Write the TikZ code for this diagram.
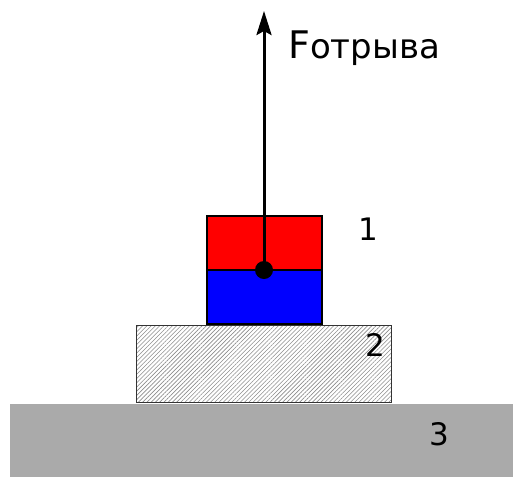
\documentclass[tikz,border=0pt]{standalone}
\usepackage{fontspec}
\setmainfont{DejaVu Sans}
\usetikzlibrary{patterns.meta,arrows.meta}
\definecolor{ground}{HTML}{AAAAAA}
\begin{document}
\begin{tikzpicture}[x=1pt,y=-1pt,
  block/.style={draw=black, line width=1.8pt},
  lbl/.style={font=\fontsize{31}{34}\selectfont, inner sep=0pt}]
\useasboundingbox (0,0) rectangle (513,477);
\fill[ground] (10,404) rectangle (513,477);
\node[lbl] (n3) at (439,434) {3};
\path[draw=black!80, line width=1pt, pattern={Lines[angle=45, distance=3pt, line width=0.6pt]}, pattern color=black!45] (136,325) rectangle (391,402);
\node[lbl] (n2) at (375,345) {2};
\draw[block, fill=blue] (207,270) rectangle (322,324);
\draw[block, fill=red] (207,216) rectangle (322,270);
\node[circle, fill=black, inner sep=0pt, minimum size=18pt] (dot) at (264,270) {};
\coordinate (top) at (264,11);
\draw[line width=3pt, -{Stealth[length=24pt, width=15pt, inset=4pt]}] (dot.center) -- (top);
\node[lbl] (n1) at (368,229) {1};
\node[anchor=base west, inner sep=0pt, font=\fontsize{34}{38}\selectfont] (force) at (288,58) {{\fontsize{38}{40}\selectfont F}отрыва};
\end{tikzpicture}
\end{document}
